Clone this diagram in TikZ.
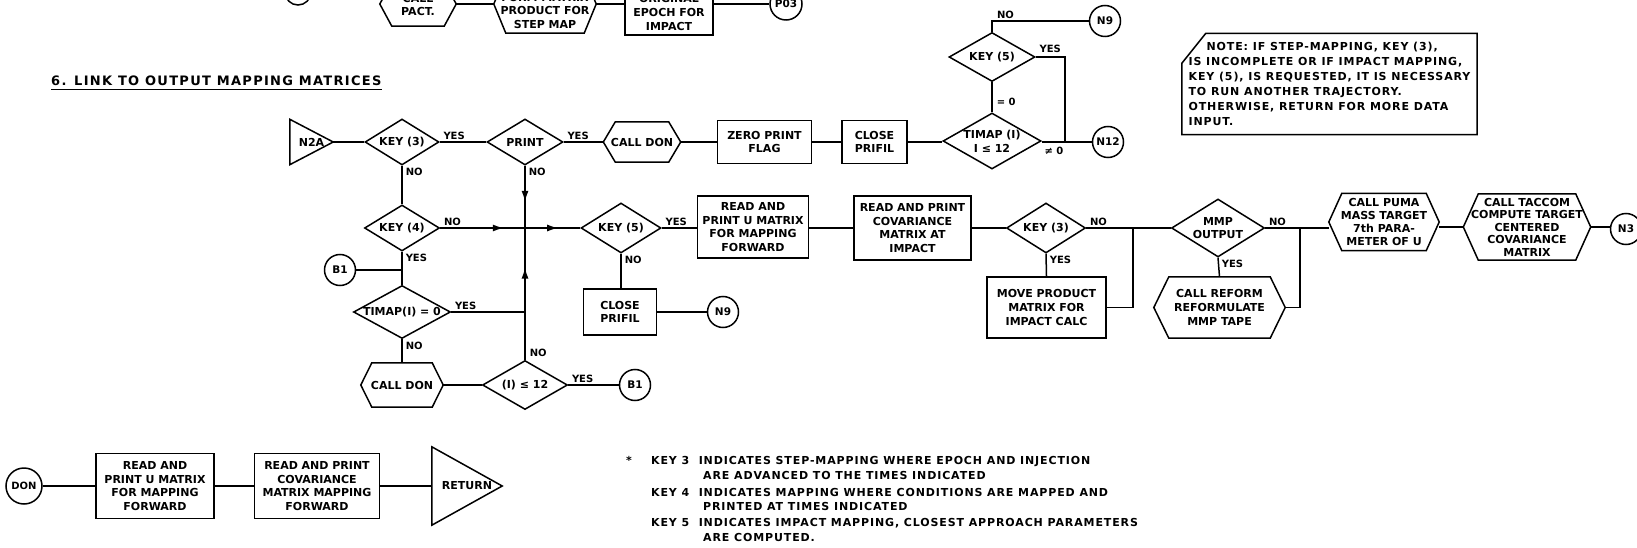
\documentclass[tikz,border=0pt]{standalone}
\usepackage{fontspec}
\setmainfont{DejaVu Sans}
\newfontfamily\spacedfont[LetterSpace=8]{DejaVu Sans}
\newfontfamily\headfont[LetterSpace=10]{DejaVu Sans}
\usetikzlibrary{shapes.geometric,arrows.meta,calc}
\newcommand{\hexify}[2]{\draw[ln] (#1.west) -- ([xshift=#2]#1.north west) -- ([xshift=-#2]#1.north east) -- (#1.east) -- ([xshift=-#2]#1.south east) -- ([xshift=#2]#1.south west) -- cycle;}
\newcommand{\trify}[1]{\draw[ln] (#1.north west) -- (#1.east) -- (#1.south west) -- cycle;}
\newcommand{\lowered}[2]{\raisebox{-#1}[0pt][0pt]{\begin{tabular}{@{}c@{}}#2\end{tabular}}}
\tikzset{
  ln/.style={line width=1.5pt},
  nt/.style={font=\fontsize{11}{13.7}\selectfont\bfseries, align=center, inner sep=0pt},
  box/.style={nt, draw, ln, rectangle},
  hexn/.style={nt, rectangle},
  dia/.style={nt, draw, ln, diamond},
  circ/.style={nt, draw, ln, circle, minimum size=31pt, font=\fontsize{10.5}{12}\selectfont\bfseries},
  lbl/.style={font=\fontsize{10}{12}\selectfont\bfseries, inner sep=1pt},
  legend/.style={font=\spacedfont\bfseries\fontsize{11}{13}\selectfont, anchor=base west, inner sep=0pt},
  arr/.style={line width=1.5pt, -{Latex[length=11pt,width=7pt]}},
}
\begin{document}
\begin{tikzpicture}[x=1pt,y=-1pt]
\useasboundingbox (0,0) rectangle (1637,548);
\fill[white] (0,0) rectangle (1637,548);

% ---------- top (cut off) row ----------
\node[circ, minimum size=26pt] (ctop) at (298,-8) {};
\node[hexn, minimum width=76pt, minimum height=44pt] (pact) at (418,4) {\lowered{5pt}{CALL\\PACT.}};
\hexify{pact}{12pt}
\node[hexn, minimum width=102pt, minimum height=58pt] (form) at (545,4) {\lowered{11pt}{FORM MATRIX\\PRODUCT FOR\\STEP MAP}};
\hexify{form}{12pt}
\node[box, minimum width=88pt, minimum height=45pt] (orig) at (669,12.5) {ORIGINAL\\EPOCH FOR\\IMPACT};
\node[circ, minimum size=32pt] (p03) at (786,4) {P03};
\draw[ln] (pact.east) -- (form.west);
\draw[ln] (form.east) -- (form.east -| orig.west);
\draw[ln] (orig.east |- p03.west) -- (p03.west);

% ---------- heading ----------
\node[font=\headfont\bfseries\fontsize{13}{15}\selectfont, anchor=base west, inner xsep=0pt, inner ysep=3pt] (head) at (51,86) {6. LINK TO OUTPUT MAPPING MATRICES};
\draw[line width=1.1pt] (head.south west) -- (head.south east);

% ---------- note ----------
\node[font=\spacedfont\bfseries\fontsize{11}{15}\selectfont, align=left, inner sep=0pt, minimum width=295pt, minimum height=101pt] (note) at (1329.5,84)
  {\hspace*{18pt}NOTE: IF STEP-MAPPING, KEY (3),\\IS INCOMPLETE OR IF IMPACT MAPPING,\\KEY (5), IS REQUESTED, IT IS NECESSARY\\TO RUN ANOTHER TRAJECTORY.\\OTHERWISE, RETURN FOR MORE DATA\\INPUT.};
\draw[ln] (note.south west) -- ([yshift=-30pt]note.north west) -- ([xshift=24pt]note.north west) -- (note.north east) -- (note.south east) -- cycle;

% ---------- row 1 ----------
\node[hexn, minimum width=43pt, minimum height=45pt] (n2a) at (311.5,142) {N2A};
\trify{n2a}
\node[dia, minimum width=74pt, minimum height=46pt, aspect=1.6] (k3a) at (402,142) {KEY (3)};
\node[dia, minimum width=76pt, minimum height=46pt, aspect=1.65] (pr) at (525,142) {PRINT};
\node[hexn, minimum width=77pt, minimum height=40pt] (cd1) at (642,142) {CALL DON};
\hexify{cd1}{12pt}
\node[box, minimum width=94pt, minimum height=43pt] (zero) at (764.5,142) {ZERO PRINT\\FLAG};
\node[box, minimum width=65pt, minimum height=43pt] (close1) at (874.5,142) {CLOSE\\PRIFIL};
\node[dia, minimum width=98pt, minimum height=56pt, aspect=1.75] (tm1) at (992,141) {TIMAP (I)\\I ≤ 12};
\node[circ] (n12) at (1108,142) {N12};
\node[dia, minimum width=86pt, minimum height=49pt, aspect=1.75] (k5t) at (992,57) {KEY (5)};
\node[circ] (n9) at (1105,21) {N9};
\coordinate (j1) at (1065,142);

\draw[ln] (n2a.east) -- (k3a.west);
\draw[ln] (k3a.east) -- node[lbl,pos=0,anchor=south west,xshift=2pt,yshift=1pt]{YES} (pr.west);
\draw[ln] (pr.east) -- node[lbl,pos=0,anchor=south west,xshift=2pt,yshift=1pt]{YES} (cd1.west);
\draw[ln] (cd1.east) -- (zero.west);
\draw[ln] (zero.east) -- (close1.west);
\draw[ln] (close1.east) -- (close1.east -| tm1.west);
\draw[ln] (tm1.east |- n12.west) -- node[lbl,pos=0,anchor=north west,xshift=1pt,yshift=-3pt]{≠ 0} (n12.west);
\draw[ln] (k5t.east) -| node[lbl,pos=0,anchor=south west,xshift=2pt,yshift=3pt]{YES} (j1);
\draw[ln] (k5t.north) |- node[lbl,pos=0.57,anchor=south,yshift=1pt]{NO} (n9.west);
\draw[ln] (k5t.south) -- node[lbl,pos=0.65,anchor=west,xshift=3pt]{= 0} (tm1.north);

% ---------- row 2 ----------
\node[dia, minimum width=75pt, minimum height=46pt, aspect=1.63] (k4) at (402,228) {KEY (4)};
\coordinate (jp) at (525,228);
\node[dia, minimum width=80pt, minimum height=50pt, aspect=1.6] (k5) at (621,228) {KEY (5)};
\node[box, minimum width=111pt, minimum height=62pt] (readU) at (753,227) {READ AND\\PRINT U MATRIX\\FOR MAPPING\\FORWARD};
\node[box, minimum width=117pt, minimum height=64pt] (readCov) at (912.5,228) {READ AND PRINT\\COVARIANCE\\MATRIX AT\\IMPACT};
\node[dia, minimum width=79pt, minimum height=50pt, aspect=1.6] (k3b) at (1046,228) {KEY (3)};
\coordinate (j2) at (1133,228);
\node[dia, minimum width=93pt, minimum height=58pt, aspect=1.6] (mmp) at (1218,228) {MMP\\OUTPUT};
\coordinate (j3) at (1300,228);
\node[hexn, minimum width=110pt, minimum height=57pt, font=\fontsize{11}{13}\selectfont\bfseries] (puma) at (1384,222) {CALL PUMA\\MASS TARGET\\7th PARA-\\METER OF U};
\hexify{puma}{13pt}
\node[hexn, minimum width=127pt, minimum height=66pt, font=\fontsize{11}{12.5}\selectfont\bfseries] (tac) at (1527,227) {CALL TACCOM\\COMPUTE TARGET\\CENTERED\\COVARIANCE\\MATRIX};
\hexify{tac}{15pt}
\node[circ] (n3) at (1626,229) {N3};
\node[box, minimum width=119pt, minimum height=61pt] (moveP) at (1046.5,307.5) {MOVE PRODUCT\\MATRIX FOR\\IMPACT CALC};
\node[hexn, minimum width=131pt, minimum height=61pt] (reform) at (1219.5,307.5) {CALL REFORM\\REFORMULATE\\MMP TAPE};
\hexify{reform}{15pt}

\draw[ln] (k3a.south) -- node[lbl,pos=0,anchor=north west,xshift=2pt,yshift=-1pt]{NO} (k4.north);
\draw[ln] (pr.south) -- node[lbl,pos=0,anchor=north west,xshift=2pt,yshift=-1pt]{NO} (jp);
\draw[arr] (pr.south) -- ($(pr.south)!0.58!(jp)$);
\draw[ln] (k4.east) -- node[lbl,pos=0,anchor=south west,xshift=2pt,yshift=1pt]{NO} (jp);
\draw[arr] (k4.east) -- ($(k4.east)!0.75!(jp)$);
\draw[ln] (jp) -- (k5.west);
\draw[arr] (jp) -- ($(jp)!0.6!(k5.west)$);
\draw[ln] (k5.east) -- node[lbl,pos=0,anchor=south west,xshift=2pt,yshift=1pt]{YES} (k5.east -| readU.west);
\draw[ln] (readU.east |- readCov.west) -- (readCov.west);
\draw[ln] (readCov.east) -- (k3b.west);
\draw[ln] (k3b.east) -- node[lbl,pos=0,anchor=south west,xshift=2pt,yshift=1pt]{NO} (mmp.west);
\draw[ln] (k3b.south) -- node[lbl,pos=0,anchor=north west,xshift=2pt,yshift=-1pt]{YES} (moveP.north);
\draw[ln] (moveP.east) -| (j2);
\draw[ln] (mmp.east) -- node[lbl,pos=0,anchor=south west,xshift=2pt,yshift=1pt]{NO} (mmp.east -| puma.west);
\draw[ln] (mmp.south) -- node[lbl,pos=0,anchor=north west,xshift=2pt,yshift=-1pt]{YES} (reform.north);
\draw[ln] (reform.east) -| (j3);
\draw[ln] (puma.east |- tac.west) -- (tac.west);
\draw[ln] (tac.east) -- (tac.east -| n3.west);

% ---------- lower left ----------
\node[circ] (b1a) at (340,270) {B1};
\node[dia, minimum width=97pt, minimum height=53pt, aspect=1.83] (tm0) at (402,312) {TIMAP(I) = 0};
\node[hexn, minimum width=82pt, minimum height=44pt] (cd2) at (402,385) {CALL DON};
\hexify{cd2}{11pt}
\node[dia, minimum width=85pt, minimum height=49pt, aspect=1.73] (i12) at (525,385) {(I) ≤ 12};
\node[circ] (b1b) at (635,385) {B1};
\node[box, minimum width=73pt, minimum height=46pt] (close2) at (620,312) {CLOSE\\PRIFIL};
\node[circ] (n9b) at (723,312) {N9};

\draw[ln] (k4.south) -- node[lbl,pos=0,anchor=north west,xshift=2pt,yshift=-1pt]{YES} (tm0.north);
\draw[ln] (b1a.east) -- (b1a.east -| k4.south);
\draw[ln] (tm0.east) -- node[lbl,pos=0,anchor=south west,xshift=2pt,yshift=1pt]{YES} (tm0.east -| jp);
\draw[ln] (tm0.south) -- node[lbl,pos=0,anchor=north west,xshift=2pt,yshift=-1pt]{NO} (cd2.north);
\draw[ln] (cd2.east) -- (i12.west);
\draw[ln] (i12.north) -- node[lbl,pos=0,anchor=south west,xshift=3pt,yshift=1pt]{NO} (jp);
\draw[arr] (i12.north) -- ($(i12.north)!0.7!(jp)$);
\draw[ln] (i12.east) -- node[lbl,pos=0,anchor=south west,xshift=2pt,yshift=1pt]{YES} (b1b.west);
\draw[ln] (k5.south) -- node[lbl,pos=0,anchor=north west,xshift=2pt,yshift=-1pt]{NO} (k5.south |- close2.north);
\draw[ln] (close2.east) -- (n9b.west);

% ---------- DON subroutine ----------
\node[circ, minimum size=36pt, font=\fontsize{10}{12}\selectfont\bfseries] (don) at (24,486) {DON};
\node[box, minimum width=118pt, minimum height=65pt] (readU2) at (155,486) {READ AND\\PRINT U MATRIX\\FOR MAPPING\\FORWARD};
\node[box, minimum width=125pt, minimum height=65pt] (readCov2) at (317,486) {READ AND PRINT\\COVARIANCE\\MATRIX MAPPING\\FORWARD};
\node[hexn, minimum width=70pt, minimum height=78pt] (ret) at (467,486) {RETURN};
\trify{ret}
\draw[ln] (don.east) -- (readU2.west);
\draw[ln] (readU2.east) -- (readCov2.west);
\draw[ln] (readCov2.east) -- (ret.west);

% ---------- legend ----------
\node[legend] (lgs) at (626,464) {*};
\node[legend] (lg1) at (651,464) {KEY 3 \ INDICATES STEP-MAPPING WHERE EPOCH AND INJECTION};
\node[legend] (lg2) at (703,479) {ARE ADVANCED TO THE TIMES INDICATED};
\node[legend] (lg3) at (651,496) {KEY 4 \ INDICATES MAPPING WHERE CONDITIONS ARE MAPPED AND};
\node[legend] (lg4) at (703,510) {PRINTED AT TIMES INDICATED};
\node[legend] (lg5) at (651,526) {KEY 5 \ INDICATES IMPACT MAPPING, CLOSEST APPROACH PARAMETERS};
\node[legend] (lg6) at (703,541) {ARE COMPUTED.};
\end{tikzpicture}
\end{document}
